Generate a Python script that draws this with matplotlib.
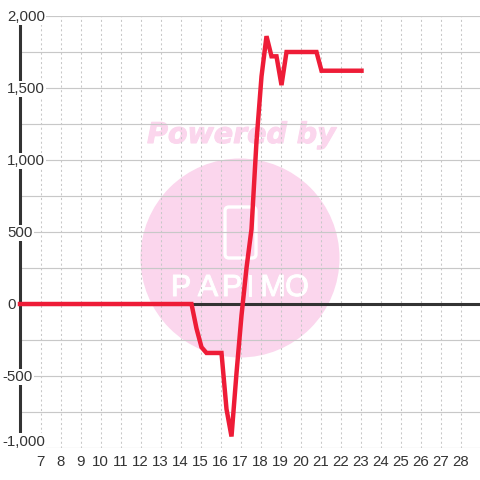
#!/usr/bin/env python3
"""Line chart with a faint watermark behind it."""

import matplotlib
matplotlib.use("Agg")
import matplotlib.pyplot as plt
import matplotlib.patheffects as pe
from matplotlib.patches import Circle, FancyBboxPatch

HOURS = [7, 14.55, 14.8, 15.05, 15.3, 16.05, 16.3, 16.55, 16.8, 17.05, 17.3, 17.55, 17.8,
         18.05, 18.3, 18.55, 18.8, 19.05, 19.3, 20.8, 21.05, 23.05]
VALUES = [0, 0, -170, -300, -340, -340, -730, -920, -480, -80, 250, 520, 1130,
          1580, 1860, 1720, 1720, 1520, 1750, 1750, 1620, 1620]
# series starts at the axis edge
START_HOUR = 5.975
X_TICKS = list(range(7, 29))
Y_MAJOR = [-1000, -500, 0, 500, 1000, 1500, 2000]
Y_MINOR = [-750, -250, 250, 750, 1250, 1750]
Y_LABELS = ["-1,000", "-500", "0", "500", "1,000", "1,500", "2,000"]

RED = "#ee1c37"
DARK = "#333333"
GRID = "#c8c8c8"
PINK = "#fbd6ed"

plt.rcParams["font.family"] = ["Liberation Sans", "DejaVu Sans"]

fig = plt.figure(figsize=(4.8, 4.8), dpi=100)

# watermark sits in its own pixel-space axes under the plot
bg = fig.add_axes([0, 0, 1, 1], zorder=0)
bg.set_xlim(0, 480)
bg.set_ylim(480, 0)
bg.axis("off")
bg.add_patch(Circle((240, 258), 99.5, fc=PINK, ec="none"))
bg.text(241.5, 135, "Powered by", color=PINK, fontsize=20.5, fontweight="bold", style="italic",
        family="DejaVu Sans", ha="center", va="center",
        path_effects=[pe.withStroke(linewidth=0.8, foreground=PINK)])
bg.add_patch(FancyBboxPatch((225, 207), 31, 51, boxstyle="round,pad=0,rounding_size=4",
                            fc="none", ec="white", lw=2.4))
for x, ch in zip([181, 208, 232, 250, 273, 297], "PAPIMO"):
    bg.text(x, 288, ch, color="white", fontsize=22, family="Liberation Sans",
            ha="center", va="center",
            path_effects=[pe.withStroke(linewidth=0.7, foreground="white")])

ax = fig.add_axes([20 / 480, 32 / 480, 460 / 480, 432 / 480], zorder=1)
ax.patch.set_alpha(0)
ax.set_xlim(START_HOUR, START_HOUR + 23)
ax.set_ylim(-1000, 2000)

for s in ax.spines.values():
    s.set_visible(False)
ax.tick_params(length=0)

ax.set_xticks(X_TICKS)
ax.set_xticklabels([str(h) for h in X_TICKS], fontsize=10.8, color=DARK)
ax.tick_params(axis="x", pad=5)
ax.set_yticks([])

for h in X_TICKS:
    ax.axvline(h, color=GRID, lw=0.75, ls=(0, (2, 2.5)), zorder=1)
for v in Y_MAJOR + Y_MINOR:
    ax.axhline(v, color=GRID, lw=0.85, zorder=1)
ax.axhline(0, color=DARK, lw=2.2, zorder=2)
ax.plot([START_HOUR, START_HOUR], [-1000, 1945], color=DARK, lw=2.2, zorder=2,
        solid_capstyle="butt", clip_on=False)

ax.plot([START_HOUR] + HOURS, [0] + VALUES, color=RED, lw=3.2, zorder=3,
        solid_joinstyle="miter", solid_capstyle="projecting", clip_on=False)

for v, lab in zip(Y_MAJOR, Y_LABELS):
    y = v if v > -1000 else -950
    off = -13 if v >= 0 else -18
    ax.annotate(lab, (0, y), xycoords=("axes fraction", "data"), xytext=(off, -1),
                textcoords="offset pixels", ha="left", va="center", fontsize=10.8,
                color=DARK, zorder=5, annotation_clip=False,
                bbox=dict(fc="white", ec="none", pad=1.0))

fig.savefig("out.png", dpi=100, facecolor="white")
